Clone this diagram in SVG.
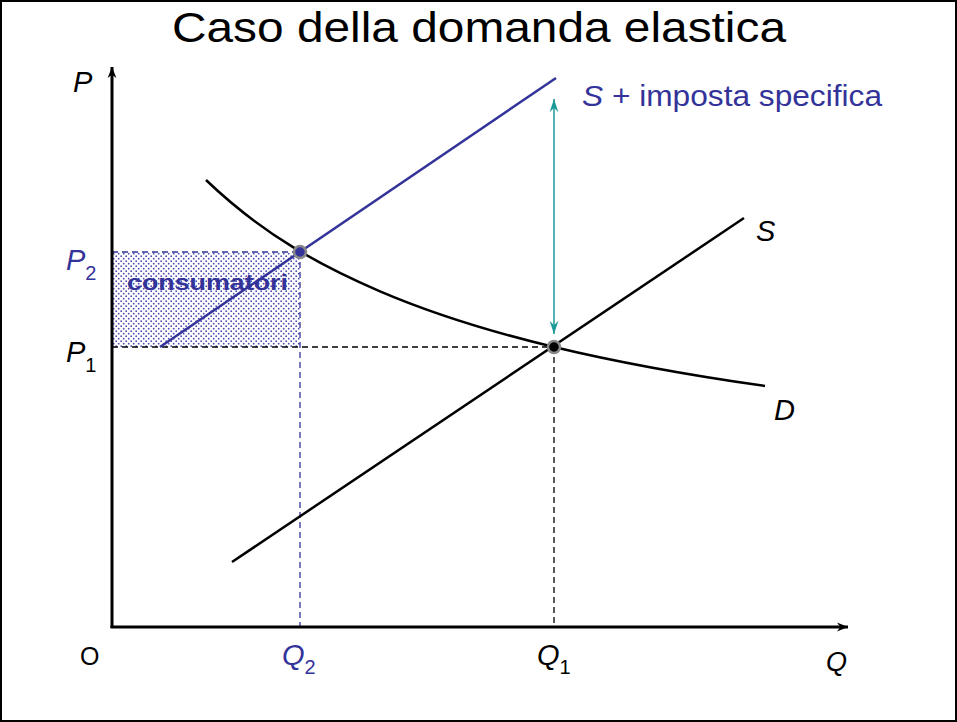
<svg xmlns="http://www.w3.org/2000/svg" width="957" height="722" viewBox="0 0 957 722">
<style>
.t{font-family:"Liberation Sans",Arial,sans-serif;}
.ax{stroke:#000;stroke-width:3;fill:none;}
.crv{stroke:#000;stroke-width:2.5;fill:none;}
.blu{stroke:#333399;stroke-width:2.5;fill:none;}
.dk{stroke:#000;stroke-width:1.3;stroke-dasharray:6,4;fill:none;}
.db{stroke:#333399;stroke-width:1.3;stroke-dasharray:6,4;fill:none;}
</style>
<defs>
<marker id="ah" viewBox="0 0 10 10" refX="10" refY="5" markerWidth="11" markerHeight="11" markerUnits="userSpaceOnUse" orient="auto">
<path d="M0,1 L10,5 L0,9 L3,5 Z" fill="#000"/>
</marker>
<marker id="th" viewBox="0 0 12 10" refX="12" refY="5" markerWidth="16" markerHeight="11" markerUnits="userSpaceOnUse" orient="auto">
<path d="M0,1 L12,5 L0,9 L4,5 Z" fill="#1a9999"/>
</marker>
<marker id="ts" viewBox="0 0 12 10" refX="0" refY="5" markerWidth="16" markerHeight="11" markerUnits="userSpaceOnUse" orient="auto">
<path d="M12,1 L0,5 L12,9 L8,5 Z" fill="#1a9999"/>
</marker>
<pattern id="dots" width="5" height="5" patternUnits="userSpaceOnUse">
<circle cx="1.2" cy="1.2" r="0.9" fill="#4a4ab0"/>
<circle cx="3.7" cy="3.7" r="0.9" fill="#4a4ab0"/>
</pattern>
</defs>
<rect x="1" y="1" width="955" height="720" fill="#fff" stroke="#000" stroke-width="2"/>
<text class="t" x="172" y="42" font-size="43" textLength="614" lengthAdjust="spacingAndGlyphs">Caso della domanda elastica</text>

<g id="area">
<rect x="112" y="252" width="188" height="95" fill="url(#dots)"/>
<text class="t" x="127" y="290" font-size="22" font-weight="bold" fill="#333399" textLength="161" lengthAdjust="spacingAndGlyphs">consumatori</text>
</g>

<g id="connectors">
<path class="dk" d="M112,347 H554 M554,347 V627"/>
<path class="db" d="M112,252 H300 M300,252 V627"/>
<line id="supply" class="crv" x1="232" y1="562" x2="744" y2="218"/>
<line id="supply-tax" class="blu" x1="160" y1="347" x2="556" y2="78"/>
<path id="demand" class="crv" d="M206,180 C264,235.5 322,266.5 380,291.3 C438,316.1 496,333 554,347 C624.3,363.9 694.7,376 765,386"/>
<line id="tax-arrow" x1="554" y1="99" x2="554" y2="334" stroke="#1a9999" stroke-width="1.5" marker-start="url(#ts)" marker-end="url(#th)"/>
<line id="y-axis" class="ax" x1="112" y1="628" x2="112" y2="67" marker-end="url(#ah)"/>
<line id="x-axis" class="ax" x1="110.5" y1="627" x2="848" y2="627" marker-end="url(#ah)"/>
</g>

<g id="eq2"><circle cx="300" cy="252" r="6" fill="#333399" stroke="#888" stroke-width="2.5"/></g>
<g id="eq1"><circle cx="554" cy="347" r="6" fill="#000" stroke="#888" stroke-width="2.5"/></g>

<g id="labels" class="t">
<text x="73" y="92" font-size="29" font-style="italic">P</text>
<text x="582" y="106" font-size="29" fill="#333399" textLength="300" lengthAdjust="spacingAndGlyphs"><tspan font-style="italic">S</tspan> + imposta specifica</text>
<text x="756" y="241" font-size="29" font-style="italic">S</text>
<text x="774" y="420" font-size="29" font-style="italic">D</text>
<text x="66" y="270" font-size="29" fill="#333399"><tspan font-style="italic">P</tspan><tspan font-size="20" dy="10">2</tspan></text>
<text x="66" y="362" font-size="29"><tspan font-style="italic">P</tspan><tspan font-size="20" dy="10">1</tspan></text>
<text x="80" y="665" font-size="25">O</text>
<text x="282" y="665" font-size="29" fill="#333399"><tspan font-style="italic">Q</tspan><tspan font-size="20" dy="9">2</tspan></text>
<text x="537" y="665" font-size="29"><tspan font-style="italic">Q</tspan><tspan font-size="20" dy="9">1</tspan></text>
<text x="826" y="671" font-size="27" font-style="italic">Q</text>
</g>
</svg>
